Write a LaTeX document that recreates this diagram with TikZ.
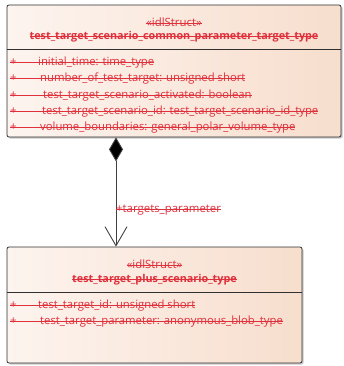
\documentclass[tikz,border=0pt]{standalone}
\usepackage{fontspec}
\setmainfont{Open Sans}
\usepackage{xcolor}
\usetikzlibrary{positioning,arrows.meta,shadows}
\definecolor{StructRed}{HTML}{E0303C}
\definecolor{PaleRose}{HTML}{FDF4EF}
\definecolor{Peach}{HTML}{F7DECD}
\definecolor{Frame}{HTML}{303030}
\definecolor{Wire}{HTML}{404040}
\newcommand{\strikeout}[1]{\sbox0{#1}\rlap{\rule[0.5ex]{\wd0}{0.7pt}}\usebox0}
\newcommand{\attrline}[2]{\strikeout{\makebox[#1][l]{+}#2}}
\tikzset{
  structbox/.style={draw=Frame,line width=0.8pt,rounded corners=2pt,left color=PaleRose,right color=Peach,
    drop shadow={shadow xshift=1.6pt,shadow yshift=-1.6pt,fill=black!35,opacity=0.6},inner sep=0pt},
  stereo/.style={text=StructRed,font=\fontsize{11.4}{13}\selectfont,inner sep=0pt},
  structname/.style={text=StructRed,font=\fontsize{10.8}{13}\selectfont\bfseries,inner sep=0pt},
  attr/.style={text=StructRed,font=\fontsize{11.3}{13}\selectfont,anchor=west,inner sep=0pt},
}
\begin{document}
\begin{tikzpicture}[x=1pt,y=-1pt]
  \useasboundingbox (0,0) rectangle (343,366);
  % upper struct
  \node[structbox,minimum width=334pt,minimum height=132pt] (common) at (174,71) {};
  \node[stereo] (commonst) at (174,22) {\strikeout{«idlStruct»}};
  \node[structname] (commonnm) at (174,37) {\strikeout{test\_target\_scenario\_common\_parameter\_target\_type}};
  \coordinate (cdiv) at (0,49);
  \draw[Frame,line width=0.8pt] (common.west |- cdiv) -- (common.east |- cdiv);
  \node[attr] (ca1) at (10,63) {\attrline{28pt}{initial\_time: time\_type}};
  \node[attr] (ca2) at (10,79) {\attrline{30pt}{number\_of\_test\_target: unsigned short}};
  \node[attr] (ca3) at (10,96) {\attrline{33pt}{test\_target\_scenario\_activated: boolean}};
  \node[attr] (ca4) at (10,112) {\attrline{32pt}{test\_target\_scenario\_id: test\_target\_scenario\_id\_type}};
  \node[attr] (ca5) at (10,128) {\attrline{30pt}{volume\_boundaries: general\_polar\_volume\_type}};
  % lower struct
  \node[structbox,minimum width=295pt,minimum height=116pt] (plus) at (154.5,305) {};
  \node[stereo] (plusst) at (154.5,264) {\strikeout{«idlStruct»}};
  \node[structname] (plusnm) at (154.5,280) {\strikeout{test\_target\_plus\_scenario\_type}};
  \coordinate (pdiv) at (0,292);
  \draw[Frame,line width=0.8pt] (plus.west |- pdiv) -- (plus.east |- pdiv);
  \node[attr] (pa1) at (10,306) {\attrline{28pt}{test\_target\_id: unsigned short}};
  \node[attr] (pa2) at (10,322) {\attrline{30pt}{test\_target\_parameter: anonymous\_blob\_type}};
  % composition
  \coordinate (link) at (116,0);
  \draw[Wire,line width=0.9pt,{Diamond[length=24pt,width=14pt,fill=black]}-{Straight Barb[length=19pt,width=22pt,line width=0.9pt]}]
    (common.south -| link) -- (plus.north -| link);
  \node[stereo,anchor=west] (role) at (116,210) {\strikeout{+targets\_parameter}};
\end{tikzpicture}
\end{document}
